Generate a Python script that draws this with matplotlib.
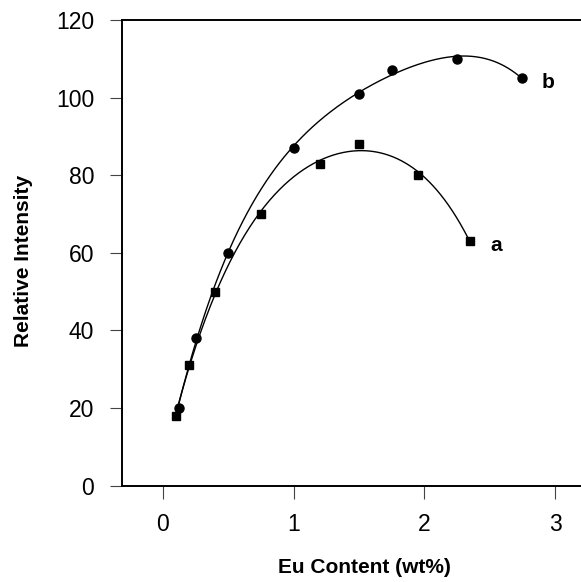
import matplotlib
matplotlib.use("Agg")
import matplotlib.pyplot as plt
import numpy as np

# data
eu_a = [0.10, 0.20, 0.40, 0.75, 1.20, 1.50, 1.95, 2.35]
int_a = [18, 31, 50, 70, 83, 88, 80, 63]
eu_b = [0.12, 0.25, 0.50, 1.00, 1.50, 1.75, 2.25, 2.75]
int_b = [20, 38, 60, 87, 101, 107, 110, 105]

x_ticks = [0, 1, 2, 3]
y_ticks = [0, 20, 40, 60, 80, 100, 120]

plt.rcParams["font.family"] = ["Liberation Sans", "DejaVu Sans"]

fig = plt.figure(figsize=(5.81, 5.82), dpi=100)
ax = fig.add_axes([0.21, 0.1658, 0.833, 0.7998])


def smooth(x, y, deg=4):
    coef = np.polyfit(x, y, deg)
    xs = np.linspace(min(x), max(x), 300)
    return xs, np.polyval(coef, xs)


xs, ys = smooth(eu_a, int_a)
ax.plot(xs, ys, color="black", lw=1.0)
ax.plot(eu_a, int_a, "s", color="black", ms=6)

xs, ys = smooth(eu_b, int_b)
ax.plot(xs, ys, color="black", lw=1.0)
ax.plot(eu_b, int_b, "o", color="black", ms=6.5)

ax.text(2.55, 62, "a", fontsize=15, fontweight="bold", ha="center", va="center")
ax.text(2.95, 104, "b", fontsize=15, fontweight="bold", ha="center", va="center")

ax.set_xlim(-0.313, 3.39)
ax.set_ylim(0, 120)
ax.set_xticks(x_ticks)
ax.set_yticks(y_ticks)
ax.tick_params(direction="out", length=9, width=0.8, labelsize=16.5, pad=11, color="#444444")

for side in ["left", "bottom", "top"]:
    ax.spines[side].set_linewidth(1.4)
ax.spines["right"].set_visible(False)

ax.set_xlabel("Eu Content (wt%)", fontsize=15, fontweight="bold")
ax.set_ylabel("Relative Intensity", fontsize=15, fontweight="bold")
ax.xaxis.set_label_coords(0.5, -0.155)
ax.yaxis.set_label_coords(-0.184, 0.482)

fig.savefig("out.png", dpi=100)
